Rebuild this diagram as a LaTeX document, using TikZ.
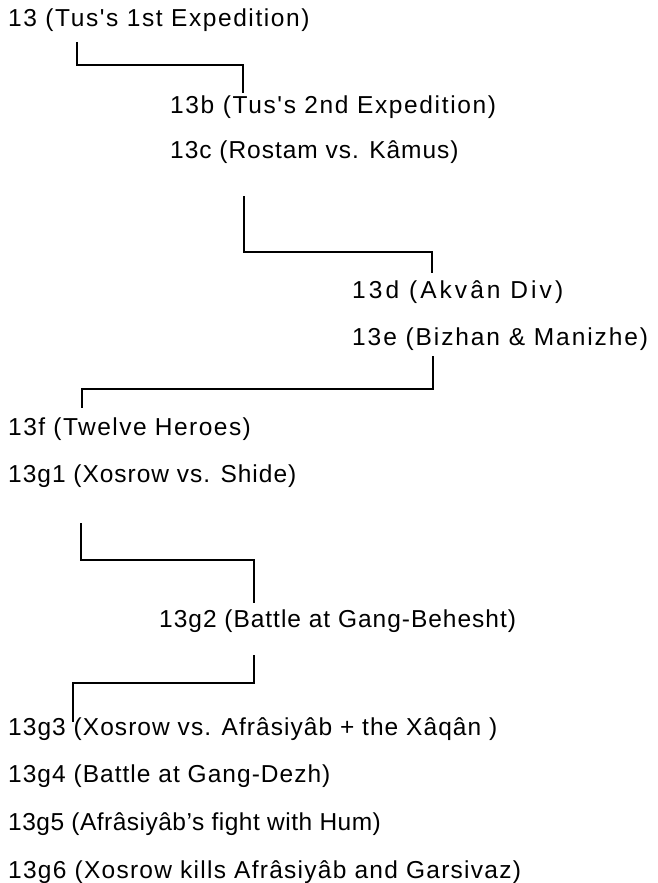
\documentclass[tikz,border=0pt]{standalone}
\usepackage{fontspec}
\setmainfont{Liberation Sans}[Ligatures=TeXOff]
\newcommand{\lsp}[1]{\addfontfeature{LetterSpace=#1}}
\begin{document}
\begin{tikzpicture}[x=1pt,y=-1pt,
  txt/.style={anchor=base west, inner sep=0pt, font=\fontsize{24.5}{28}\selectfont},
  conn/.style={line width=2.4pt, line cap=butt, line join=miter}]
\useasboundingbox (0,0) rectangle (657,883);
% texts
\node[txt] (t13)  at (8,27)    {\lsp{6.5}13 (Tus's 1st Expedition)};
\node[txt] (t13b) at (170,113) {\lsp{6.7}13b (Tus's 2nd Expedition)};
\node[txt] (t13c) at (170,158) {\lsp{4}13c (Rostam vs. Kâmus)};
\node[txt] (t13d) at (352,298) {\lsp{12.5}13d (Akvân Div)};
\node[txt] (t13e) at (352,345) {\lsp{7.8}13e (Bizhan \& Manizhe)};
\node[txt] (t13f) at (8,435)   {\lsp{6}13f (Twelve Heroes)};
\node[txt] (t13g1) at (8,482)  {\lsp{4}13g1 (Xosrow vs. Shide)};
\node[txt] (t13g2) at (159,627) {\lsp{4}13g2 (Battle at Gang-Behesht)};
\node[txt] (t13g3) at (8,735)  {\lsp{4.3}13g3 (Xosrow vs. Afrâsiyâb + the Xâqân )};
\node[txt] (t13g4) at (8,782)  {\lsp{4.2}13g4 (Battle at Gang-Dezh)};
\node[txt] (t13g5) at (8,830)  {\lsp{2}13g5 (Afrâsiyâb’s fight with Hum)};
\node[txt] (t13g6) at (8,878)  {\lsp{5.2}13g6 (Xosrow kills Afrâsiyâb and Garsivaz)};
% connector end points
\coordinate (a1) at (77,42);   \coordinate (b1) at (243,93);
\coordinate (a2) at (244,196); \coordinate (b2) at (432,273);
\coordinate (a3) at (433,356); \coordinate (b3) at (82,408);
\coordinate (a4) at (81,523);  \coordinate (b4) at (254,603);
\coordinate (a5) at (254,655); \coordinate (b5) at (73,722);
% connectors
\draw[conn] (a1) -- ++(0,23) -| (b1);
\draw[conn] (a2) -- ++(0,56) -| (b2);
\draw[conn] (a3) -- ++(0,33) -| (b3);
\draw[conn] (a4) -- ++(0,37) -| (b4);
\draw[conn] (a5) -- ++(0,28) -| (b5);
\end{tikzpicture}
\end{document}
